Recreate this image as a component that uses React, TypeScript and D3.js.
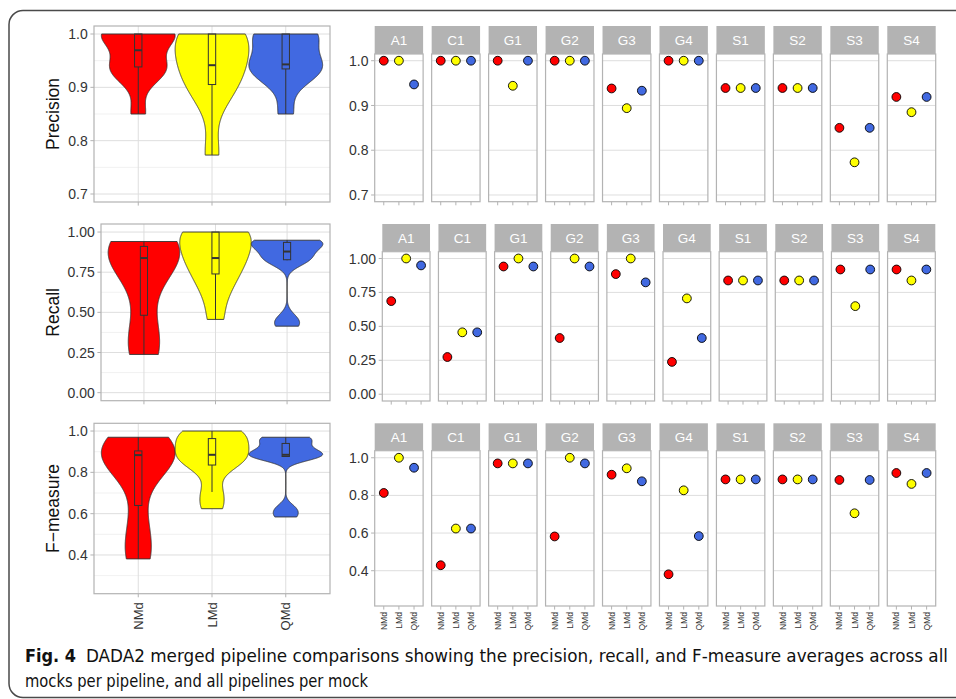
import React from 'react';
import * as d3 from 'd3';

// Pipelines (x categories) and mock communities (facets)
const pipelines = ['NMd', 'LMd', 'QMd'];
const mocks = ['A1', 'C1', 'G1', 'G2', 'G3', 'G4', 'S1', 'S2', 'S3', 'S4'];
const pipelineColors = ['#ff0000', '#ffff00', '#4169e1'];

// Per-mock scores, in the order of `mocks`
const precisionNMd = [1.0, 1.0, 1.0, 1.0, 0.938, 1.0, 0.939, 0.939, 0.85, 0.919];
const precisionLMd = [1.0, 1.0, 0.944, 1.0, 0.894, 1.0, 0.939, 0.939, 0.773, 0.885];
const precisionQMd = [0.947, 1.0, 1.0, 1.0, 0.933, 1.0, 0.939, 0.939, 0.85, 0.919];

const recallNMd = [0.686, 0.274, 0.941, 0.414, 0.885, 0.238, 0.838, 0.838, 0.919, 0.919];
const recallLMd = [1.0, 0.456, 1.0, 1.0, 1.0, 0.706, 0.838, 0.838, 0.649, 0.838];
const recallQMd = [0.949, 0.456, 0.941, 0.941, 0.824, 0.414, 0.838, 0.838, 0.919, 0.919];

const fmeasureNMd = [0.813, 0.429, 0.97, 0.582, 0.91, 0.381, 0.885, 0.885, 0.882, 0.919];
const fmeasureLMd = [1.0, 0.624, 0.97, 1.0, 0.944, 0.827, 0.885, 0.885, 0.705, 0.861];
const fmeasureQMd = [0.947, 0.624, 0.97, 0.97, 0.875, 0.584, 0.885, 0.885, 0.882, 0.919];

const metricTitles = ['Precision', 'Recall', 'F\u2212measure'];
const precisionLimits = [0.7, 1.0];
const recallLimits = [0.0, 1.0];
const fmeasureLimits = [0.25, 1.0];
const precisionTicks = [0.7, 0.8, 0.9, 1.0];
const recallTicks = [0.0, 0.25, 0.5, 0.75, 1.0];
const fmeasureTicks = [0.4, 0.6, 0.8, 1.0];
const precisionMinor = [0.75, 0.85, 0.95];
const recallMinor = [0.125, 0.375, 0.625, 0.875];
const fmeasureMinor = [0.3, 0.5, 0.7, 0.9];

const captionLabel = 'Fig. 4';
const captionLine1 = 'DADA2 merged pipeline comparisons showing the precision, recall, and F-measure averages across all';
const captionLine2 = 'mocks per pipeline, and all pipelines per mock';

// Page geometry for each metric row
const rowLayout = [
  { left: { x0: 94, x1: 330, y0: 26, y1: 202 }, right: { x0: 374.7, x1: 935.7, top: 26, y0: 54, y1: 201.7 } },
  { left: { x0: 101, x1: 330, y0: 224, y1: 400.7 }, right: { x0: 382.3, x1: 935.3, top: 224, y0: 251.7, y1: 401 } },
  { left: { x0: 94, x1: 330, y0: 423.3, y1: 593.7 }, right: { x0: 374.7, x1: 935.7, top: 423.3, y0: 450.7, y1: 606 } },
];

const rows = [
  { title: metricTitles[0], series: [precisionNMd, precisionLMd, precisionQMd], limits: precisionLimits, ticks: precisionTicks, minor: precisionMinor, fmt: d3.format('.1f') },
  { title: metricTitles[1], series: [recallNMd, recallLMd, recallQMd], limits: recallLimits, ticks: recallTicks, minor: recallMinor, fmt: d3.format('.2f') },
  { title: metricTitles[2], series: [fmeasureNMd, fmeasureLMd, fmeasureQMd], limits: fmeasureLimits, ticks: fmeasureTicks, minor: fmeasureMinor, fmt: d3.format('.1f') },
];

const FONT = "'Liberation Sans', Arial, Helvetica, sans-serif";
const CAPTION_FONT = "'DejaVu Sans Condensed', 'Liberation Sans Narrow', sans-serif";
const GRID = '#dedede';
const GRID_MINOR = '#ebebeb';
const BORDER = '#b3b3b3';
const INK = '#333333';
const TICK_LEN = 3.6;

function expanded(limits: number[]) {
  const span = limits[1] - limits[0];
  return [limits[0] - 0.05 * span, limits[1] + 0.05 * span];
}

// Gaussian KDE, bandwidth by Silverman's rule (bw.nrd0), trimmed to the data range
function violinPath(values: number[], y: d3.ScaleLinear<number, number>, cx: number, halfWidth: number) {
  const sorted = [...values].sort(d3.ascending);
  const n = sorted.length;
  const sd = d3.deviation(sorted) || 0;
  const iqr = (d3.quantileSorted(sorted, 0.75) as number) - (d3.quantileSorted(sorted, 0.25) as number);
  let lo = Math.min(sd, iqr / 1.34);
  if (!(lo > 0)) lo = sd || Math.abs(sorted[0]) || 1;
  const bw = 0.9 * lo * Math.pow(n, -0.2);
  const lo0 = sorted[0];
  const hi0 = sorted[n - 1];
  const grid = d3.range(512).map((i) => lo0 + ((hi0 - lo0) * i) / 511);
  const dens = grid.map((g) => d3.sum(sorted, (v) => Math.exp(-0.5 * ((g - v) / bw) ** 2)) / (n * bw * Math.sqrt(2 * Math.PI)));
  const maxD = d3.max(dens) || 1;
  const rightSide = grid.map((g, i) => [cx + (halfWidth * dens[i]) / maxD, y(g)] as [number, number]);
  const leftSide = grid.map((g, i) => [cx - (halfWidth * dens[i]) / maxD, y(g)] as [number, number]).reverse();
  return (d3.line()([...rightSide, ...leftSide]) || '') + 'Z';
}

function boxStats(values: number[]) {
  const s = [...values].sort(d3.ascending);
  const q1 = d3.quantileSorted(s, 0.25) as number;
  const med = d3.quantileSorted(s, 0.5) as number;
  const q3 = d3.quantileSorted(s, 0.75) as number;
  const iqr = q3 - q1;
  const lowW = d3.min(s.filter((v) => v >= q1 - 1.5 * iqr)) as number;
  const highW = d3.max(s.filter((v) => v <= q3 + 1.5 * iqr)) as number;
  return { q1, med, q3, lowW, highW };
}

function ViolinPanel({ row, layout, showX }: any) {
  const { x0, x1, y0, y1 } = layout;
  const y = d3.scaleLinear().domain(expanded(row.limits)).range([y1, y0]);
  const step = (x1 - x0) / 3.2;
  const x = (i: number) => x0 + (0.6 + i) * step;
  return (
    <g>
      <rect x={x0} y={y0} width={x1 - x0} height={y1 - y0} fill="#fff" />
      {row.minor.map((t: number) => (
        <line key={'m' + t} x1={x0} x2={x1} y1={y(t)} y2={y(t)} stroke={GRID_MINOR} strokeWidth={0.7} />
      ))}
      {row.ticks.map((t: number) => (
        <line key={'g' + t} x1={x0} x2={x1} y1={y(t)} y2={y(t)} stroke={GRID} strokeWidth={1} />
      ))}
      {pipelines.map((p, i) => (
        <line key={'v' + p} x1={x(i)} x2={x(i)} y1={y0} y2={y1} stroke={GRID} strokeWidth={1} />
      ))}
      {row.series.map((vals: number[], i: number) => (
        <path key={'vio' + i} d={violinPath(vals, y, x(i), step * 0.5)} fill={pipelineColors[i]} stroke={INK} strokeWidth={0.9} />
      ))}
      {row.series.map((vals: number[], i: number) => {
        const b = boxStats(vals);
        const bw = step * 0.1;
        const cx = x(i);
        return (
          <g key={'box' + i} stroke={INK} fill="none">
            <line x1={cx} x2={cx} y1={y(b.highW)} y2={y(b.q3)} strokeWidth={1} />
            <line x1={cx} x2={cx} y1={y(b.q1)} y2={y(b.lowW)} strokeWidth={1} />
            <rect x={cx - bw / 2} y={y(b.q3)} width={bw} height={y(b.q1) - y(b.q3)} strokeWidth={1} />
            <line x1={cx - bw / 2} x2={cx + bw / 2} y1={y(b.med)} y2={y(b.med)} strokeWidth={2} />
          </g>
        );
      })}
      <rect x={x0} y={y0} width={x1 - x0} height={y1 - y0} fill="none" stroke={BORDER} strokeWidth={1.2} />
      {row.ticks.map((t: number) => (
        <g key={'yt' + t}>
          <line x1={x0 - TICK_LEN} x2={x0} y1={y(t)} y2={y(t)} stroke={BORDER} strokeWidth={1} />
          <text x={x0 - TICK_LEN - 2.6} y={y(t)} dy="0.36em" textAnchor="end" fontSize={14} fill={INK} fontFamily={FONT}>
            {row.fmt(t)}
          </text>
        </g>
      ))}
      {pipelines.map((p, i) => (
        <g key={'xt' + p}>
          <line x1={x(i)} x2={x(i)} y1={y1} y2={y1 + TICK_LEN} stroke={BORDER} strokeWidth={1} />
          {showX && (
            <text transform={`translate(${x(i)},${y1 + TICK_LEN + 5}) rotate(-90)`} dy="0.36em" textAnchor="end" fontSize={13} fill={INK} fontFamily={FONT}>
              {p}
            </text>
          )}
        </g>
      ))}
      <text transform={`translate(59,${(y0 + y1) / 2}) rotate(-90)`} textAnchor="middle" fontSize={17.5} fill="#111" fontFamily={FONT}>
        {row.title}
      </text>
    </g>
  );
}

function MockPanels({ row, layout, showX }: any) {
  const { x0, x1, top, y0, y1 } = layout;
  const y = d3.scaleLinear().domain(expanded(row.limits)).range([y1, y0]);
  const facet = d3.scaleBand<string>().domain(mocks).range([x0, x1]).paddingInner(0.15);
  const w = facet.bandwidth();
  const step = w / 3.2;
  return (
    <g>
      {mocks.map((m, mi) => {
        const fx = facet(m) as number;
        const x = (i: number) => fx + (0.6 + i) * step;
        return (
          <g key={m}>
            <rect x={fx} y={top} width={w} height={y0 - top} fill={BORDER} />
            <text x={fx + w / 2} y={(top + y0) / 2} dy="0.36em" textAnchor="middle" fontSize={13.5} fill="#fff" fontFamily={FONT}>
              {m}
            </text>
            <rect x={fx} y={y0} width={w} height={y1 - y0} fill="#fff" />
            {row.ticks.map((t: number) => (
              <line key={'g' + t} x1={fx} x2={fx + w} y1={y(t)} y2={y(t)} stroke={GRID} strokeWidth={1} />
            ))}
            {row.series.map((vals: number[], i: number) => (
              <circle key={'p' + i} cx={x(i)} cy={y(vals[mi])} r={4.4} fill={pipelineColors[i]} stroke="#000" strokeWidth={0.9} />
            ))}
            <rect x={fx} y={y0} width={w} height={y1 - y0} fill="none" stroke={BORDER} strokeWidth={1.2} />
            {pipelines.map((p, i) => (
              <g key={'xt' + p}>
                <line x1={x(i)} x2={x(i)} y1={y1} y2={y1 + TICK_LEN} stroke={BORDER} strokeWidth={1} />
                {showX && (
                  <text transform={`translate(${x(i)},${y1 + TICK_LEN + 2.5}) rotate(-90)`} dy="0.36em" textAnchor="end" fontSize={8.5} fill={INK} fontFamily={FONT}>
                    {p}
                  </text>
                )}
              </g>
            ))}
            {mi === 0 &&
              row.ticks.map((t: number) => (
                <g key={'yt' + t}>
                  <line x1={fx - TICK_LEN} x2={fx} y1={y(t)} y2={y(t)} stroke={BORDER} strokeWidth={1} />
                  <text x={fx - TICK_LEN - 2.6} y={y(t)} dy="0.36em" textAnchor="end" fontSize={14} fill={INK} fontFamily={FONT}>
                    {row.fmt(t)}
                  </text>
                </g>
              ))}
          </g>
        );
      })}
    </g>
  );
}

export default function App() {
  return (
    <svg width={956} height={699} viewBox="0 0 956 699" style={{ position: 'absolute', left: 0, top: 0, display: 'block' }}>
      <rect x={0} y={0} width={956} height={699} fill="#fff" />
      <rect x={9} y={10.5} width={1000} height={687} rx={14} ry={14} fill="none" stroke="#4a4a4a" strokeWidth={1.5} />
      {rows.map((row, ri) => (
        <g key={row.title}>
          <ViolinPanel row={row} layout={rowLayout[ri].left} showX={ri === rows.length - 1} />
          <MockPanels row={row} layout={rowLayout[ri].right} showX={ri === rows.length - 1} />
        </g>
      ))}
      <text x={25} y={662} fontSize={18.5} fontWeight="bold" fill="#111" fontFamily={CAPTION_FONT} textLength={51} lengthAdjust="spacingAndGlyphs">
        {captionLabel}
      </text>
      <text x={86} y={662} fontSize={17.5} fill="#111" fontFamily={CAPTION_FONT} textLength={862} lengthAdjust="spacingAndGlyphs">
        {captionLine1}
      </text>
      <text x={25} y={687} fontSize={17.5} fill="#111" fontFamily={CAPTION_FONT} textLength={343} lengthAdjust="spacingAndGlyphs">
        {captionLine2}
      </text>
    </svg>
  );
}
